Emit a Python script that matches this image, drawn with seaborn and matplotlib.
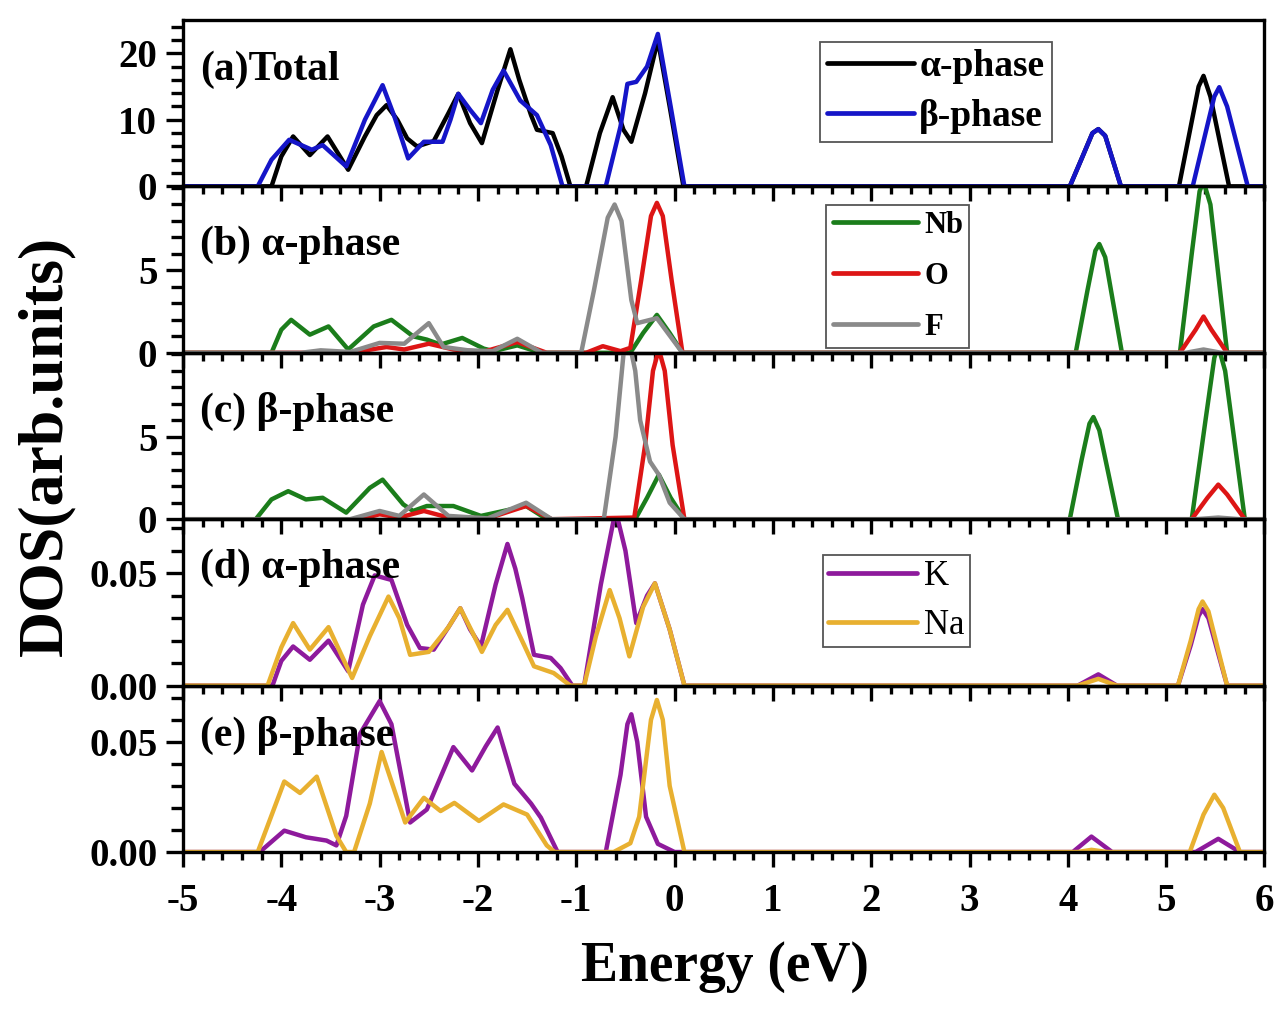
import matplotlib
matplotlib.use("Agg")
import matplotlib.pyplot as plt
from matplotlib.ticker import MultipleLocator, FormatStrFormatter, FixedLocator
import seaborn as sns


# ------------------ DATA ------------------

# (a) total DOS
tot_a_x = [-5, -4.10, -4.00, -3.88, -3.71, -3.53, -3.32, -3.15, -3.03, -2.93, -2.82, -2.72, -2.62,
           -2.45, -2.30, -2.20, -2.08, -1.96, -1.80, -1.67, -1.58, -1.46, -1.40, -1.24, -1.15, -1.06,
           -0.90, -0.76, -0.63, -0.52, -0.44, -0.30, -0.17, -0.05, 0.09,
           4.02, 4.15, 4.25, 4.31, 4.38, 4.54, 5.13, 5.25, 5.33, 5.38, 5.45, 5.64, 6]
tot_a_y = [0, 0, 4.5, 7.5, 4.7, 7.5, 2.5, 7.5, 10.7, 12.2, 10.0, 7.2, 6.0,
           6.8, 11.0, 13.9, 9.5, 6.5, 14.5, 20.6, 16.0, 10.7, 8.5, 8.0, 4.5, 0,
           0, 8.0, 13.4, 8.5, 6.7, 14.0, 22.0, 12.0, 0,
           0, 4.5, 8.0, 8.6, 7.6, 0, 0, 9.0, 15.0, 16.6, 13.5, 0, 0]
tot_b_x = [-5, -4.24, -4.10, -3.92, -3.69, -3.58, -3.34, -3.15, -2.97, -2.85, -2.71, -2.55, -2.36,
           -2.28, -2.20, -2.08, -1.97, -1.85, -1.74, -1.57, -1.40, -1.26, -1.14, -0.70, -0.55,
           -0.48, -0.39, -0.28, -0.17, -0.04, 0.10,
           4.02, 4.15, 4.25, 4.31, 4.38, 4.54, 5.27, 5.40, 5.49, 5.54, 5.62, 5.83, 6]
tot_b_y = [0, 0, 4.0, 7.0, 5.5, 6.2, 3.0, 10.0, 15.2, 10.5, 4.2, 6.7, 6.7,
           10.0, 13.9, 11.5, 9.5, 14.5, 17.4, 12.9, 10.7, 6.2, 0, 0, 9.0,
           15.4, 15.7, 18.0, 22.9, 12.0, 0,
           0, 4.5, 8.0, 8.6, 7.6, 0, 0, 8.0, 13.5, 14.9, 12.0, 0, 0]

# (b) alpha-phase partial DOS
nb_a_x = [-5, -4.10, -4.00, -3.90, -3.71, -3.52, -3.32, -3.06, -2.88, -2.66, -2.52, -2.38, -2.16,
          -1.94, -1.84, -1.60, -1.36, -0.45, -0.32, -0.18, -0.05, 0.08,
          4.08, 4.20, 4.28, 4.32, 4.38, 4.55, 5.14, 5.26, 5.34, 5.38, 5.45, 5.62, 6]
nb_a_y = [0, 0, 1.4, 2.0, 1.1, 1.6, 0.2, 1.6, 2.0, 1.0, 0.8, 0.5, 0.9,
          0.25, 0.1, 0.45, 0, 0, 1.2, 2.3, 1.2, 0,
          0, 3.8, 6.2, 6.6, 5.8, 0, 0, 6.0, 9.8, 10.4, 9.0, 0, 0]
o_a_x = [-5, -3.30, -2.93, -2.75, -2.50, -2.25, -1.95, -1.60, -1.30, -0.90, -0.73, -0.55, -0.45,
         -0.34, -0.24, -0.18, -0.12, -0.03, 0.08, 5.14, 5.30, 5.38, 5.46, 5.62, 6]
o_a_y = [0, 0, 0.35, 0.2, 0.55, 0.2, 0.05, 0.65, 0, 0, 0.4, 0.1, 0.3,
         4.4, 8.3, 9.1, 8.3, 4.4, 0, 0, 1.4, 2.2, 1.4, 0, 0]
f_a_x = [-5, -3.80, -3.60, -3.30, -3.00, -2.75, -2.50, -2.35, -2.10, -1.85, -1.60, -1.35, -0.95,
         -0.82, -0.68, -0.61, -0.54, -0.44, -0.38, -0.18, 0.08, 5.20, 5.38, 5.56, 6]
f_a_y = [0, 0, 0.15, 0.05, 0.6, 0.55, 1.8, 0.35, 0.15, 0.1, 0.85, 0, 0,
         3.8, 8.2, 9.0, 8.0, 3.2, 1.8, 2.1, 0, 0, 0.2, 0, 0]

# (c) beta-phase partial DOS
nb_b_x = [-5, -4.26, -4.10, -3.93, -3.75, -3.58, -3.34, -3.10, -2.97, -2.76, -2.66, -2.52, -2.25,
          -1.97, -1.51, -1.30, -0.40, -0.28, -0.16, -0.04, 0.10,
          4.02, 4.14, 4.22, 4.26, 4.32, 4.51, 5.26, 5.40, 5.49, 5.53, 5.60, 5.80, 6]
nb_b_y = [0, 0, 1.2, 1.7, 1.2, 1.3, 0.4, 1.9, 2.4, 0.9, 0.5, 0.8, 0.8,
          0.2, 0.8, 0, 0, 1.3, 2.7, 1.3, 0,
          0, 3.6, 5.8, 6.2, 5.4, 0, 0, 6.0, 9.8, 10.5, 9.0, 0, 0]
o_b_x = [-5, -3.20, -3.00, -2.80, -2.55, -2.30, -1.90, -1.51, -1.25, -0.41, -0.30, -0.22, -0.16,
         -0.10, -0.02, 0.10, 5.26, 5.42, 5.53, 5.62, 5.80, 6]
o_b_y = [0, 0, 0.3, 0.1, 0.5, 0.1, 0.05, 0.8, 0, 0.1, 4.5, 9.0, 10.3,
         9.0, 4.5, 0, 0, 1.3, 2.1, 1.5, 0, 0]
f_b_x = [-5, -3.30, -3.00, -2.80, -2.55, -2.30, -1.90, -1.51, -1.25, -0.72, -0.60, -0.52, -0.47,
         -0.40, -0.35, -0.25, -0.16, -0.05, 0.10, 5.30, 5.53, 5.75, 6]
f_b_y = [0, 0, 0.5, 0.2, 1.5, 0.2, 0.05, 1.0, 0, 0, 5.0, 10.0, 11.0,
         9.0, 6.0, 3.5, 2.7, 1.0, 0, 0, 0.1, 0, 0]

# (d) alpha-phase K / Na
k_a_x = [-5, -4.09, -4.00, -3.88, -3.71, -3.52, -3.32, -3.17, -3.05, -2.88, -2.72, -2.59, -2.45,
         -2.30, -2.18, -2.08, -1.97, -1.82, -1.70, -1.62, -1.55, -1.43, -1.26, -1.16, -1.04,
         -0.92, -0.75, -0.60, -0.50, -0.39, -0.28, -0.20, -0.05, 0.10,
         4.10, 4.31, 4.50, 5.12, 5.25, 5.33, 5.37, 5.43, 5.62, 6]
k_a_y = [0, 0, 0.011, 0.0174, 0.0115, 0.020, 0.0064, 0.036, 0.049, 0.047, 0.027, 0.0167, 0.016,
         0.026, 0.0344, 0.025, 0.0174, 0.045, 0.063, 0.052, 0.039, 0.0137, 0.0123, 0.0078, 0,
         0, 0.045, 0.078, 0.060, 0.0278, 0.040, 0.0455, 0.025, 0,
         0, 0.005, 0, 0, 0.018, 0.031, 0.034, 0.030, 0, 0]
na_a_x = [-5, -4.14, -4.00, -3.88, -3.71, -3.52, -3.28, -3.10, -2.91, -2.80, -2.69, -2.50, -2.30,
          -2.18, -2.06, -1.96, -1.82, -1.70, -1.53, -1.43, -1.23, -1.06, -0.92, -0.80, -0.66,
          -0.56, -0.46, -0.32, -0.20, -0.05, 0.10,
          4.10, 4.31, 4.50, 5.12, 5.25, 5.33, 5.37, 5.43, 5.62, 6]
na_a_y = [0, 0, 0.017, 0.0278, 0.016, 0.026, 0.0034, 0.022, 0.0396, 0.030, 0.0137, 0.015, 0.026,
          0.0344, 0.024, 0.015, 0.027, 0.0337, 0.018, 0.0086, 0.0056, 0, 0, 0.022, 0.0425,
          0.030, 0.013, 0.035, 0.0455, 0.025, 0,
          0, 0.003, 0, 0, 0.020, 0.034, 0.0374, 0.033, 0, 0]

# (e) beta-phase K / Na
k_b_x = [-5, -4.22, -3.97, -3.75, -3.54, -3.44, -3.34, -3.20, -3.00, -2.88, -2.69, -2.52, -2.38,
         -2.25, -2.06, -1.92, -1.80, -1.63, -1.46, -1.36, -1.19, -0.70, -0.55, -0.48, -0.44,
         -0.38, -0.29, -0.17, 0.0, 4.05, 4.24, 4.45, 5.30, 5.53, 5.75, 6]
k_b_y = [0, 0, 0.0097, 0.0067, 0.0052, 0.003, 0.0164, 0.0536, 0.0685, 0.058, 0.0134, 0.0193, 0.034,
         0.0476, 0.037, 0.048, 0.0565, 0.031, 0.022, 0.0156, 0, 0, 0.035, 0.058, 0.0625,
         0.050, 0.016, 0.0037, 0, 0, 0.007, 0, 0, 0.006, 0, 0]
na_b_x = [-5, -4.24, -3.97, -3.81, -3.64, -3.44, -3.34, -3.26, -3.10, -2.98, -2.74, -2.55, -2.38,
          -2.24, -1.99, -1.74, -1.50, -1.30, -1.22, -0.62, -0.45, -0.36, -0.24, -0.18, -0.12,
          -0.05, 0.10, 4.10, 4.24, 4.40, 5.24, 5.38, 5.49, 5.58, 5.75, 6]
na_b_y = [0, 0, 0.032, 0.0268, 0.0342, 0.0074, 0, 0, 0.022, 0.0454, 0.0134, 0.0246, 0.0186,
          0.0223, 0.0141, 0.0216, 0.017, 0.003, 0, 0, 0.004, 0.016, 0.060, 0.069, 0.060,
          0.03, 0, 0, 0.001, 0, 0, 0.017, 0.026, 0.020, 0, 0]

panel_titles = ["(a)Total", "(b) \u03b1-phase", "(c) \u03b2-phase", "(d) \u03b1-phase", "(e) \u03b2-phase"]
x_ticks = [-5, -4, -3, -2, -1, 0, 1, 2, 3, 4, 5, 6]


# ------------------ STYLE ------------------

sns.set_style("ticks")
plt.rcParams["font.family"] = ["Liberation Serif", "DejaVu Serif"]
plt.rcParams["font.weight"] = "bold"
plt.rcParams["axes.linewidth"] = 2.4
plt.rcParams["axes.unicode_minus"] = False
plt.rcParams["lines.solid_joinstyle"] = "round"
for key in ["text.color", "axes.labelcolor", "xtick.color", "ytick.color", "axes.edgecolor"]:
    plt.rcParams[key] = "black"

C = {
    "alpha": "#000000",
    "beta": "#1515c8",
    "Nb": "#1b7d1b",
    "O": "#dd1515",
    "F": "#8a8a8a",
    "K": "#8e1a9c",
    "Na": "#e8b030",
}

LW = 3.2

panels = [
    {"series": [(tot_a_x, tot_a_y, "alpha", "\u03b1-phase"), (tot_b_x, tot_b_y, "beta", "\u03b2-phase")],
     "ylim": 25, "major": [0, 10, 20], "minor": 2, "fmt": "%d"},
    {"series": [(nb_a_x, nb_a_y, "Nb", "Nb"), (o_a_x, o_a_y, "O", "O"), (f_a_x, f_a_y, "F", "F")],
     "ylim": 10.1, "major": [0, 5], "minor": 1, "fmt": "%d"},
    {"series": [(nb_b_x, nb_b_y, "Nb", None), (o_b_x, o_b_y, "O", None), (f_b_x, f_b_y, "F", None)],
     "ylim": 10.1, "major": [0, 5], "minor": 1, "fmt": "%d"},
    {"series": [(k_a_x, k_a_y, "K", "K"), (na_a_x, na_a_y, "Na", "Na")],
     "ylim": 0.074, "major": [0, 0.05], "minor": 0.01, "fmt": "%.2f"},
    {"series": [(k_b_x, k_b_y, "K", None), (na_b_x, na_b_y, "Na", None)],
     "ylim": 0.0755, "major": [0, 0.05], "minor": 0.01, "fmt": "%.2f"},
]

title_pos = [0.70, 0.65, 0.65, 0.71, 0.70]


# ------------------ PLOT ------------------

fig, axes = plt.subplots(5, 1, figsize=(12.87, 10.13), dpi=100, sharex=True)
fig.subplots_adjust(left=0.1422, right=0.9825, top=0.9803, bottom=0.1589, hspace=0)

for i, (ax, p) in enumerate(zip(axes, panels)):
    ax.patch.set_alpha(0)
    for xs, ys, key, lab in p["series"]:
        sns.lineplot(x=xs, y=ys, ax=ax, color=C[key], linewidth=LW,
                     label=lab, sort=False, estimator=None)

    ax.set_xlim(-5, 6)
    ax.set_ylim(0, p["ylim"])
    ax.yaxis.set_major_locator(FixedLocator(p["major"]))
    ax.yaxis.set_minor_locator(MultipleLocator(p["minor"]))
    ax.yaxis.set_major_formatter(FormatStrFormatter(p["fmt"]))
    ax.xaxis.set_major_locator(FixedLocator(x_ticks))
    ax.xaxis.set_minor_locator(MultipleLocator(0.2))

    ax.tick_params(axis="y", which="major", direction="out", length=12.5, width=2.4,
                   labelsize=28, pad=6)
    ax.tick_params(axis="y", which="minor", direction="out", length=8.5, width=2.4)
    ax.tick_params(axis="x", which="major", direction="out", length=10.5, width=2.4,
                   labelsize=28, pad=12, labelbottom=(i == 4))
    ax.tick_params(axis="x", which="minor", direction="out", length=5.5, width=2.4)
    ax.tick_params(top=False, right=False, which="both")

    for side in ["top", "right", "left", "bottom"]:
        ax.spines[side].set_visible(True)

    ax.text(0.016, title_pos[i], panel_titles[i], transform=ax.transAxes,
            fontsize=30, fontweight="bold", ha="left", va="center", zorder=5)

    leg = ax.get_legend()
    if leg is not None:
        leg.remove()

# legends
leg_a = axes[0].legend(loc="upper left", bbox_to_anchor=(0.589, 0.87), borderaxespad=0,
                       fontsize=27, handlelength=2.3, handletextpad=0.15, labelspacing=0.4,
                       borderpad=0.2, fancybox=False, framealpha=1, edgecolor="#555555")
leg_b = axes[1].legend(loc="upper left", bbox_to_anchor=(0.595, 0.89), borderaxespad=0,
                       fontsize=22, handlelength=2.8, handletextpad=0.2, labelspacing=0.72,
                       borderpad=0.2, fancybox=False, framealpha=1, edgecolor="#555555")
leg_d = axes[3].legend(loc="upper left", bbox_to_anchor=(0.592, 0.785), borderaxespad=0,
                       prop={"size": 25, "weight": "normal"}, handlelength=2.55,
                       handletextpad=0.2, labelspacing=0.45, borderpad=0.15,
                       fancybox=False, framealpha=1, edgecolor="#555555")
for lg in (leg_a, leg_b, leg_d):
    lg.get_frame().set_linewidth(1.3)
    for h in lg.get_lines():
        h.set_linewidth(3.4)

fig.text(0.563, 0.045, "Energy (eV)", fontsize=40, fontweight="bold", ha="center", va="center")
fig.text(0.036, 0.56, "DOS(arb.units)", fontsize=46, fontweight="bold", rotation=90,
         ha="center", va="center")

fig.savefig("out.png", dpi=100, facecolor="white")
plt.close(fig)
